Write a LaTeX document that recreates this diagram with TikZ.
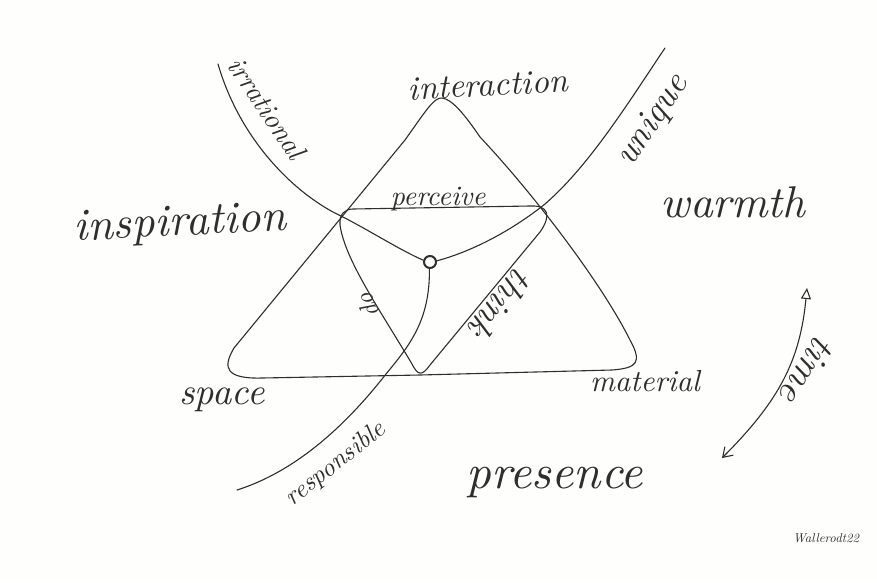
\documentclass[tikz,border=0pt]{standalone}
\usepackage{graphicx}
\usetikzlibrary{arrows.meta}
\definecolor{ink}{HTML}{2E2E2E}
\definecolor{paper}{HTML}{FEFEFC}
\newcommand{\hwtext}[2]{\resizebox{#1pt}{!}{\itshape #2}}
\tikzset{
  stroke/.style={draw=ink, line width=1.1pt, line cap=round, line join=round},
  hw/.style={text=ink, inner sep=0pt, font=\itshape},
}
\begin{document}
\begin{tikzpicture}[x=1pt,y=-1pt]
\fill[paper] (0,0) rectangle (877,582);
\useasboundingbox (0,0) rectangle (877,582);

% outer triangle
\draw[stroke] (420,375) -- (262,378) .. controls (226,379) and (222,368) .. (234,348)
  -- (405,140) .. controls (425,112) and (434,97) .. (442,98)
  .. controls (452,99) and (465,115) .. (480,137)
  .. controls (530,190) and (600,280) .. (630,340)
  .. controls (642,362) and (638,368) .. (612,370) -- cycle;

% inner inverted triangle
\draw[stroke] (353,209) -- (530,206) .. controls (548,205) and (552,215) .. (540,232)
  -- (430,365) .. controls (422,376) and (418,376) .. (412,364)
  .. controls (380,310) and (345,260) .. (340,225)
  .. controls (339,214) and (345,209) .. (353,209) -- cycle;

% centre
\node[circle, draw=ink, line width=2pt, minimum size=12pt, inner sep=0pt] (c) at (430,262) {};

% three curves
\coordinate (irrEnd) at (218,64);
\coordinate (uniEnd) at (665,48);
\coordinate (resEnd) at (237,490);
\draw[stroke] (irrEnd) .. controls (240,140) and (295,195) .. (343,217)
  .. controls (372,232) and (400,250) .. (c.165);
\draw[stroke] (uniEnd) .. controls (630,100) and (590,165) .. (545,204)
  .. controls (510,232) and (470,252) .. (c.10);
\draw[stroke] (c.265) .. controls (430,320) and (410,345) .. (386,374)
  .. controls (350,420) and (300,470) .. (resEnd);

% time arrow
\coordinate (timeTop) at (807,288);
\coordinate (timeBot) at (722,458);
\draw[stroke, {Straight Barb[length=9pt,width=12pt]}-{Triangle[open,length=11pt,width=10pt]}]
  (timeBot) .. controls (780,400) and (800,360) .. (timeTop);

% labels
\node[hw, rotate=-56] (irrational) at (267,108) {\hwtext{115}{irrational}};
\node[hw, rotate=3] (interaction) at (488,85) {\hwtext{160}{interaction}};
\node[hw, rotate=56] (unique) at (653,121) {\hwtext{102}{unique}};
\node[hw, rotate=3] (inspiration) at (180,225) {\hwtext{212}{inspiration}};
\node[hw] (perceive) at (438,199) {\hwtext{95}{perceive}};
\node[hw] (warmth) at (733,202) {\hwtext{145}{warmth}};
\node[hw, rotate=115] (do) at (368,306) {\hwtext{25}{do}};
\node[hw, rotate=-129] (think) at (501,304) {\hwtext{78}{think}};
\node[hw] (space) at (222,400) {\hwtext{85}{space}};
\node[hw] (material) at (645,381) {\hwtext{110}{material}};
\node[hw, rotate=38] (responsible) at (336,464) {\hwtext{120}{responsible}};
\node[hw] (presence) at (555,482) {\hwtext{176}{presence}};
\node[hw, rotate=-122] (time) at (808,370) {\hwtext{72}{time}};
\node[hw] (signature) at (826,538) {\hwtext{66}{Wallerodt22}};
\end{tikzpicture}
\end{document}
